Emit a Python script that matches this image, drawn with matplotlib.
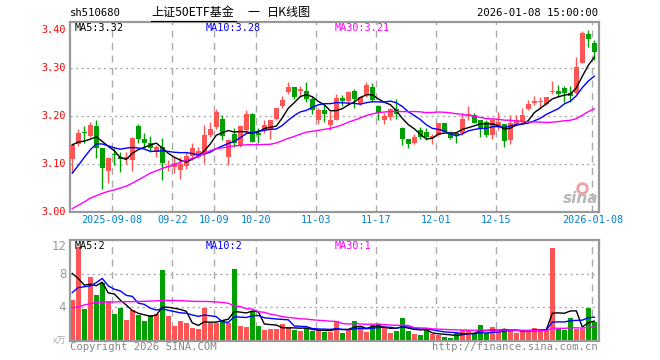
import matplotlib
matplotlib.use('Agg')
import matplotlib.pyplot as plt
import numpy as np
import math

# ---------------- data ----------------
dates = (['2025-08-28', '2025-08-29'] +
         ['2025-09-%02d' % d for d in [1, 2, 3, 4, 5, 8, 9, 10, 11, 12, 15, 16, 17, 18, 19,
                                       22, 23, 24, 25, 26, 29, 30]] +
         ['2025-10-%02d' % d for d in [9, 10, 13, 14, 15, 16, 17, 20, 21, 22, 23, 24,
                                       27, 28, 29, 30, 31]] +
         ['2025-11-%02d' % d for d in [3, 4, 5, 6, 7, 10, 11, 12, 13, 14, 17, 18, 19, 20, 21,
                                       24, 25, 26, 27, 28]] +
         ['2025-12-%02d' % d for d in [1, 2, 3, 4, 5, 8, 9, 10, 11, 12, 15, 16, 17, 18, 19,
                                       22, 23, 24, 25, 26, 29, 30, 31]] +
         ['2026-01-%02d' % d for d in [5, 6, 7, 8]])

opens = [3.110, 3.141, 3.167, 3.158, 3.179, 3.133, 3.086, 3.120, 3.114, 3.110,
         3.108, 3.179, 3.153, 3.143, 3.126, 3.135, 3.093, 3.094, 3.087, 3.097,
         3.117, 3.115, 3.124, 3.160, 3.178, 3.194, 3.115, 3.163, 3.140, 3.172,
         3.204, 3.164, 3.171, 3.174, 3.195, 3.221, 3.251, 3.260, 3.252, 3.253,
         3.235, 3.193, 3.212, 3.181, 3.193, 3.237, 3.232, 3.252, 3.226, 3.244,
         3.261, 3.221, 3.193, 3.199, 3.214, 3.176, 3.152, 3.143, 3.171, 3.167,
         3.155, 3.160, 3.186, 3.164, 3.164, 3.164, 3.201, 3.202, 3.192, 3.188,
         3.160, 3.179, 3.183, 3.151, 3.181, 3.188, 3.214, 3.228, 3.229, 3.225,
         3.251, 3.253, 3.258, 3.249, 3.249, 3.311, 3.371, 3.353]
highs = [3.143, 3.174, 3.179, 3.188, 3.192, 3.134, 3.115, 3.133, 3.126, 3.126,
         3.156, 3.183, 3.164, 3.158, 3.140, 3.155, 3.108, 3.114, 3.114, 3.126,
         3.143, 3.136, 3.181, 3.188, 3.214, 3.202, 3.153, 3.176, 3.181, 3.212,
         3.207, 3.176, 3.192, 3.193, 3.218, 3.242, 3.272, 3.261, 3.262, 3.272,
         3.239, 3.218, 3.225, 3.211, 3.246, 3.244, 3.253, 3.256, 3.242, 3.272,
         3.270, 3.223, 3.207, 3.218, 3.235, 3.178, 3.152, 3.163, 3.178, 3.176,
         3.163, 3.186, 3.186, 3.169, 3.165, 3.206, 3.221, 3.206, 3.193, 3.192,
         3.197, 3.209, 3.183, 3.202, 3.202, 3.216, 3.233, 3.242, 3.240, 3.240,
         3.274, 3.266, 3.263, 3.263, 3.324, 3.378, 3.379, 3.358]
lows = [3.084, 3.138, 3.143, 3.157, 3.112, 3.049, 3.060, 3.098, 3.084, 3.101,
        3.085, 3.143, 3.133, 3.126, 3.115, 3.067, 3.085, 3.081, 3.068, 3.089,
        3.108, 3.112, 3.103, 3.157, 3.174, 3.150, 3.099, 3.136, 3.136, 3.167,
        3.147, 3.143, 3.164, 3.153, 3.192, 3.218, 3.247, 3.235, 3.240, 3.230,
        3.204, 3.183, 3.188, 3.171, 3.192, 3.221, 3.225, 3.216, 3.223, 3.240,
        3.230, 3.192, 3.183, 3.192, 3.195, 3.140, 3.133, 3.142, 3.152, 3.151,
        3.142, 3.159, 3.166, 3.153, 3.144, 3.160, 3.193, 3.185, 3.157, 3.157,
        3.153, 3.171, 3.136, 3.142, 3.179, 3.186, 3.213, 3.223, 3.214, 3.223,
        3.246, 3.240, 3.230, 3.230, 3.247, 3.310, 3.344, 3.318]
closes = [3.140, 3.164, 3.165, 3.181, 3.134, 3.092, 3.113, 3.119, 3.110, 3.115,
          3.154, 3.153, 3.143, 3.133, 3.136, 3.103, 3.097, 3.103, 3.101, 3.117,
          3.133, 3.127, 3.160, 3.173, 3.208, 3.159, 3.150, 3.144, 3.179, 3.204,
          3.147, 3.160, 3.181, 3.192, 3.216, 3.233, 3.261, 3.239, 3.256, 3.235,
          3.212, 3.212, 3.204, 3.193, 3.237, 3.232, 3.251, 3.235, 3.239, 3.266,
          3.233, 3.207, 3.200, 3.214, 3.204, 3.152, 3.142, 3.156, 3.156, 3.156,
          3.159, 3.186, 3.167, 3.155, 3.160, 3.194, 3.204, 3.186, 3.176, 3.160,
          3.192, 3.188, 3.149, 3.186, 3.192, 3.202, 3.225, 3.232, 3.231, 3.239,
          3.253, 3.247, 3.249, 3.243, 3.303, 3.374, 3.362, 3.334]
# volume in 10k
volumes = [4.89, 11.27, 3.80, 7.68, 5.49, 6.99, 4.77, 3.23, 3.96, 2.50,
           3.68, 3.07, 2.34, 3.07, 3.19, 8.53, 2.95, 1.74, 2.38, 2.06,
           1.54, 1.37, 3.96, 2.14, 2.14, 2.46, 2.14, 8.65, 1.74, 1.66,
           3.60, 1.74, 1.25, 1.37, 1.37, 1.98, 1.66, 1.25, 1.19, 1.47,
           1.15, 1.25, 1.07, 1.05, 2.34, 0.93, 1.33, 2.38, 1.66, 1.05,
           1.86, 1.94, 1.54, 0.93, 1.13, 2.75, 1.13, 0.77, 0.65, 1.25,
           0.77, 0.65, 0.44, 0.32, 0.85, 1.25, 1.25, 0.73, 1.86, 0.85,
           1.66, 1.05, 1.37, 1.25, 0.93, 1.13, 1.13, 1.54, 1.33, 1.25,
           11.23, 1.37, 1.25, 2.75, 1.33, 1.45, 3.96, 2.26]

# moving-average values at the start of the window (history before the first bar)
ma5_head = [3.140, 3.146, 3.148, 3.152]
ma10_head = [3.081, 3.097, 3.114, 3.130, 3.142, 3.142, 3.138, 3.134, 3.131]
ma30_head = [3.007, 3.014, 3.021, 3.029, 3.034, 3.039, 3.043, 3.046, 3.050, 3.054,
             3.060, 3.067, 3.074, 3.081, 3.086, 3.091, 3.095, 3.099, 3.104, 3.108,
             3.112, 3.116, 3.122, 3.128, 3.132, 3.134, 3.136, 3.138, 3.139]
vma5_head = [8.1, 7.5, 6.7, 6.8]
vma10_head = [5.8, 6.4, 6.5, 6.6, 7.0, 7.5, 6.6, 6.2, 6.0]
vma30_head = [3.95, 4.05, 4.30, 4.45, 4.60, 4.64, 4.65, 4.66, 4.68, 4.70,
              4.70, 4.72, 4.74, 4.76, 4.80, 4.84, 4.84, 4.84, 4.82, 4.78,
              4.74, 4.72, 4.72, 4.70, 4.66, 4.60, 4.50, 4.20, 4.10]

tick_labels = ['2025-09-08', '09-22', '10-09', '10-20', '11-03', '11-17',
               '12-01', '12-15', '2026-01-08']
tick_dates = ['2025-09-08', '2025-09-22', '2025-10-09', '2025-10-20', '2025-11-03',
              '2025-11-17', '2025-12-01', '2025-12-15', '2026-01-08']
price_ticks = [3.00, 3.10, 3.20, 3.30, 3.40]
vol_ticks = [4, 8, 12]


def moving_avg(vals, n, head):
    v = np.array(vals, dtype=float)
    out = list(head)
    for i in range(len(head), len(v)):
        out.append(v[i - n + 1:i + 1].mean())
    return np.array(out)


def trunc2(v):
    return '%.2f' % (math.floor(v * 100 + 1e-9) / 100)


o = np.array(opens); h = np.array(highs); l = np.array(lows); c = np.array(closes)
vol = np.array(volumes)
N = len(c)
x = np.arange(N)
ma5 = moving_avg(closes, 5, ma5_head)
ma10 = moving_avg(closes, 10, ma10_head)
ma30 = moving_avg(closes, 30, ma30_head)
vma5 = moving_avg(volumes, 5, vma5_head)
vma10 = moving_avg(volumes, 10, vma10_head)
vma30 = moving_avg(volumes, 30, vma30_head)

RED = '#ff5555'
GREEN = '#00a000'
up = c >= o
cols = np.where(up, RED, GREEN)

W, H = 660, 360
fig = plt.figure(figsize=(W / 100, H / 100), dpi=100)
fig.patch.set_facecolor('white')
MONO = 'DejaVu Sans Mono'
FS = 7.3
CJK = ['Noto Sans CJK SC', 'DejaVu Sans']


def axrect(l_, t_, r_, b_):
    return [l_ / W, 1 - b_ / H, (r_ - l_) / W, (b_ - t_) / H]


ax = fig.add_axes(axrect(70, 22, 598.7, 212))
axv = fig.add_axes(axrect(70, 240, 598.7, 340.5))
XL = (-0.38, 87.73)
tick_idx = [dates.index(d) for d in tick_dates]

for a in (ax, axv):
    a.set_xlim(*XL)
    a.set_xticks([])
    a.set_yticks([])
    for s in a.spines.values():
        s.set_color('#999999')
        s.set_linewidth(1.6)
    for ti in tick_idx:
        a.axvline(ti - 0.33, color='#aaaaaa', lw=1.0, ls=(0, (5, 4)), zorder=0)

ax.set_ylim(3.0, 3.3965)
for p in price_ticks[1:-1]:
    ax.axhline(p, color='#aaaaaa', lw=1.0, ls=(0, (1.5, 2.5)), zorder=0)
axv.set_ylim(0, 12.15)
for p in vol_ticks[:-1]:
    axv.axhline(p, color='#aaaaaa', lw=1.0, ls=(0, (1.5, 2.5)), zorder=0)

# candles
bw = 0.8
body_lo = np.minimum(o, c)
body_h = np.maximum(np.abs(c - o), 0.0008)
ax.vlines(x, l, h, colors=cols, lw=1.0, zorder=2)
ax.bar(x, body_h, bw, bottom=body_lo, color=cols, edgecolor=cols, lw=0, zorder=3)

ax.plot(x, ma5, color='black', lw=1.0, zorder=4)
ax.plot(x, ma10, color='#0000ff', lw=1.0, zorder=4)
ax.plot(x, ma30, color='#ff00ff', lw=1.0, zorder=4)

axv.bar(x, vol, bw, color=cols, lw=0, zorder=2)
axv.plot(x, vma5, color='black', lw=1.0, zorder=4)
axv.plot(x, vma10, color='#0000ff', lw=1.0, zorder=4)
axv.plot(x, vma30, color='#ff00ff', lw=1.0, zorder=4)

# price labels
for p in price_ticks:
    yy = p if p < 3.39 else 3.391
    ax.text(-1.0, yy, '%.2f' % p, color='#ff0000', fontsize=FS, family=MONO,
            ha='right', va='center' if p < 3.39 else 'top')
for p in vol_ticks:
    axv.text(-1.0, p if p < 12 else 12.15, '%d' % p, color='#999999', fontsize=8.5,
             ha='right', va='center' if p < 12 else 'top', family='DejaVu Sans')
axv.text(-1.0, -0.1, 'x万', color='#aaaaaa', fontsize=6.5, ha='right', va='center',
         family=CJK)

# date labels
for lab, ti in zip(tick_labels, tick_idx):
    ax.text(ti - 0.33, -0.015, lab, transform=ax.get_xaxis_transform(), ha='center',
            va='top', color='#0080cc', fontsize=FS, family=MONO)

# MA legends
ax.text(0.45, 3.394, 'MA5:' + trunc2(ma5[-1]), color='black', fontsize=FS, family=MONO, va='top')
ax.text(22.3, 3.394, 'MA10:' + trunc2(ma10[-1]), color='#0000ff', fontsize=FS, family=MONO, va='top')
ax.text(43.8, 3.394, 'MA30:' + trunc2(ma30[-1]), color='#ff00ff', fontsize=FS, family=MONO, va='top')
axv.text(0.45, 12.0, 'MA5:%d' % int(vma5[-1]), color='black', fontsize=FS, family=MONO, va='top')
axv.text(22.3, 12.0, 'MA10:%d' % int(vma10[-1]), color='#0000ff', fontsize=FS, family=MONO, va='top')
axv.text(43.8, 12.0, 'MA30:%d' % int(vma30[-1]), color='#ff00ff', fontsize=FS, family=MONO, va='top')

# sina watermark
ax.plot([84.9], [3.051], marker='o', ms=7, mfc='none', mec='#f0a0a0', mew=2.0, zorder=1)
ax.text(87.6, 3.013, 'sina', color='#b8b8b8', fontsize=11, fontweight='bold', style='italic',
        ha='right', va='bottom', zorder=1)

# header
fig.text(70 / W, 1 - 12.5 / H, 'sh510680', fontsize=FS + 0.3, family=MONO, va='center', ha='left')
fig.text(151 / W, 1 - 12.5 / H, '上证50ETF基金', fontsize=8.7, family=CJK, va='center', ha='left')
fig.add_artist(plt.Line2D([151 / W, 236 / W], [1 - 20.5 / H, 1 - 20.5 / H], color='black', lw=0.8))
fig.text(247 / W, 1 - 12.5 / H, '一', fontsize=8.7, family=CJK, va='center', ha='left')
fig.text(267 / W, 1 - 12.5 / H, '日K线图', fontsize=8.7, family=CJK, va='center', ha='left')
fig.text(598 / W, 1 - 12.5 / H, '2026-01-08 15:00:00', fontsize=FS + 0.3, family=MONO, va='center',
         ha='right')

# footer
fig.text(70 / W, 1 - 347 / H, 'Copyright 2026 SINA.COM', fontsize=FS + 0.3, family=MONO,
         color='#888888', va='center', ha='left')
fig.text(598 / W, 1 - 347 / H, 'http://finance.sina.com.cn', fontsize=FS + 0.3, family=MONO,
         color='#888888', va='center', ha='right')

fig.savefig('out.png', dpi=100, facecolor='white')
